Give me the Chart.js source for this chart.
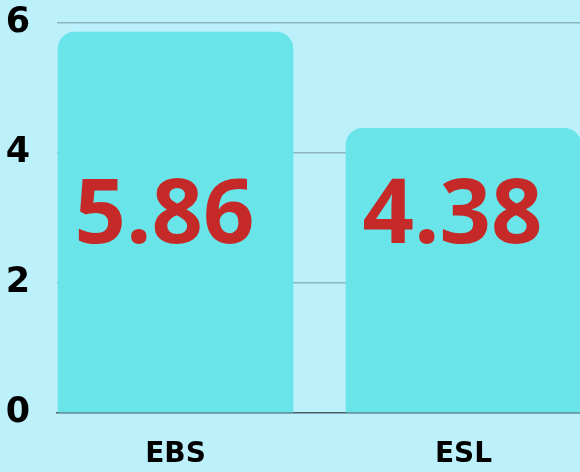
<!DOCTYPE html>
<html lang="en">
<head>
    <meta charset="UTF-8">
    <title>EBS vs ESL</title>
    <script src="https://cdn.jsdelivr.net/npm/chart.js"></script>
    <style>
        * { margin: 0; padding: 0; box-sizing: border-box; }
        html, body {
            width: 580px;
            height: 472px;
            background: #BCF0FB;
            overflow: hidden;
        }
        .chart-wrap {
            position: relative;
            width: 580px;
            height: 472px;
        }
    </style>
</head>
<body>
    <div class="chart-wrap">
        <canvas id="barChart"></canvas>
    </div>

    <script>
        // chart data
        const categories = ['EBS', 'ESL'];
        const scores = [5.86, 4.38];
        const yTicks = [0, 2, 4, 6];
        const labelLevel = 3.01; // value height where the big numbers sit

        // big red numbers drawn inside the bars
        const valueLabels = {
            id: 'valueLabels',
            afterDatasetsDraw(chart) {
                const ctx = chart.ctx;
                const yScale = chart.scales.y;
                const meta = chart.getDatasetMeta(0);
                ctx.save();
                ctx.font = 'bold 90px "Open Sans"';
                ctx.fillStyle = '#C62A28';
                ctx.textAlign = 'center';
                ctx.textBaseline = 'middle';
                meta.data.forEach((bar, i) => {
                    ctx.fillText(scores[i].toFixed(2), bar.x - 11, yScale.getPixelForValue(labelLevel));
                });
                ctx.restore();
            }
        };

        const ctx = document.getElementById('barChart').getContext('2d');
        new Chart(ctx, {
            type: 'bar',
            data: {
                datasets: [{
                    data: scores.map((v, i) => ({ x: i, y: v })),
                    backgroundColor: '#69E4E8',
                    borderWidth: 0,
                    borderRadius: { topLeft: 17, topRight: 17 },
                    borderSkipped: false,
                    barThickness: 235
                }]
            },
            options: {
                responsive: true,
                maintainAspectRatio: false,
                animation: false,
                layout: { padding: 0 },
                plugins: {
                    legend: { display: false },
                    tooltip: { enabled: false }
                },
                scales: {
                    x: {
                        type: 'linear',
                        min: -0.4115,
                        max: 1.4045,
                        offset: false,
                        z: 1,
                        grid: { display: false, offset: false },
                        border: { display: true, color: '#4B5A5F', width: 1.5 },
                        afterBuildTicks(scale) {
                            scale.ticks = categories.map((c, i) => ({ value: i }));
                        },
                        afterFit(scale) {
                            scale.height = 59;
                            scale.paddingLeft = 0;
                            scale.paddingRight = 0;
                        },
                        ticks: {
                            color: '#000000',
                            font: { family: '"DejaVu Sans"', size: 28, weight: 'bold' },
                            padding: 17,
                            maxRotation: 0,
                            autoSkip: false,
                            callback: (v) => categories[v]
                        }
                    },
                    y: {
                        min: 0,
                        max: 6,
                        afterBuildTicks(scale) {
                            scale.ticks = yTicks.map(v => ({ value: v }));
                        },
                        afterFit(scale) {
                            scale.width = 57;
                            scale.paddingTop = 23;
                            scale.paddingBottom = 0;
                        },
                        border: { display: false },
                        grid: {
                            drawTicks: false,
                            color: (c) => c.tick && c.tick.value === 0 ? 'rgba(0,0,0,0)' : '#8DB4BF',
                            lineWidth: 1.5
                        },
                        ticks: {
                            color: '#000000',
                            font: { family: '"DejaVu Sans"', size: 35, weight: 'bold' },
                            padding: 27
                        }
                    }
                }
            },
            plugins: [valueLabels]
        });
    </script>
</body>
</html>
